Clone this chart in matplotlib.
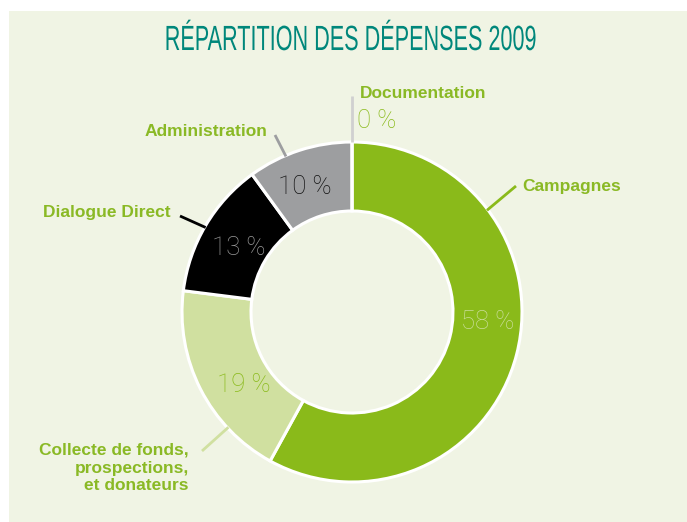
import numpy as np
import matplotlib.pyplot as plt
from matplotlib.patches import Rectangle, PathPatch
from matplotlib.textpath import TextPath
from matplotlib.font_manager import FontProperties
from matplotlib.transforms import Affine2D

# data
title = 'RÉPARTITION DES DÉPENSES 2009'
categories = ['Campagnes', 'Collecte de fonds,\nprospections,\net donateurs',
              'Dialogue Direct', 'Administration', 'Documentation']
values = [58, 19, 13, 10, 0]
pct_labels = ['58 %', '19 %', '13 %', '10 %', '0 %']

# styles
colors = ['#8aba1a', '#d0e0a0', '#000000', '#9d9ea0', '#d6d6d6']
pct_colors = ['#c9dd98', '#8aba1a', '#9a9a9a', '#111111']
line_colors = ['#8aba1a', '#d0e0a0', '#000000', '#9d9ea0', '#d0d0d0']
green = '#8ab925'
bg = '#f0f4e4'

W, H = 687, 522
cx, cy = 352, H - 312
R, ring = 170, 69


def px(x, y):
    # image pixel coords -> data coords
    return x, H - y


fig = plt.figure(figsize=(W / 100, H / 100), dpi=100, facecolor='white')
ax = fig.add_axes([0, 0, 1, 1])
ax.add_patch(Rectangle((9, 0), W - 9, H - 9 - 2, facecolor=bg, edgecolor='none', zorder=0))

ax.pie(values, colors=colors, startangle=90, counterclock=False,
       center=(cx, cy), radius=R,
       wedgeprops=dict(width=ring, edgecolor='white', linewidth=2.2))

ax.set_xlim(0, W)
ax.set_ylim(0, H)
ax.set_aspect('equal')
ax.axis('off')

# condensed title: squeeze a regular text path horizontally
tp = TextPath((0, 0), title, size=35, prop=FontProperties(family='Liberation Sans'))
ext = tp.get_extents()
sx = 369 / ext.width
tr = Affine2D().translate(-(ext.x0 + ext.width / 2), -(ext.y0 + ext.height / 2)) \
    .scale(sx, 1).translate(*px(351, 35))
ax.add_patch(PathPatch(tr.transform_path(tp), facecolor='#00877b', edgecolor='none', lw=0))

# percentage labels inside the ring
pct_pos = [(488, 322), (244, 385), (239, 248), (305, 187)]
for (x, y), t, c in zip(pct_pos, pct_labels[:4], pct_colors):
    ax.text(*px(x, y), t, ha='center', va='center', fontsize=18.5, color=c,
            family=['Roboto', 'DejaVu Sans'], fontweight='light')

# category labels with leader lines
lead_angles = [37, 223, 150, 113]
lead_ends = [(516, 186), (202, 451), (180, 216), (275, 135)]
text_pos = [(522, 187, 'left'), (189, 468, 'right'), (171, 213, 'right'), (267, 131, 'right')]
for i in range(4):
    a = np.radians(lead_angles[i])
    x0, y0 = cx + (R - 1) * np.cos(a), cy + (R - 1) * np.sin(a)
    x1, y1 = px(*lead_ends[i])
    ax.plot([x0, x1], [y0, y1], color=line_colors[i], lw=2, solid_capstyle='butt', zorder=3)
    tx, ty, ha = text_pos[i]
    ax.text(*px(tx, ty), categories[i], ha=ha, va='center', fontsize=12.5,
            fontweight='bold', color=green, linespacing=1.25,
            multialignment='right', family=['Liberation Sans', 'DejaVu Sans'])

# Documentation (0 %)
ax.plot([cx, cx], [cy + R, H - 96], color=line_colors[4], lw=2, solid_capstyle='butt', zorder=3)
ax.text(*px(360, 94), categories[4], ha='left', va='center', fontsize=12.5,
        fontweight='bold', color=green, family=['Liberation Sans', 'DejaVu Sans'])
ax.text(*px(357, 121), pct_labels[4], ha='left', va='center', fontsize=18.5,
        color='#8aba1a', family=['Roboto', 'DejaVu Sans'], fontweight='light')

fig.savefig('out.png', dpi=100, facecolor='white')
